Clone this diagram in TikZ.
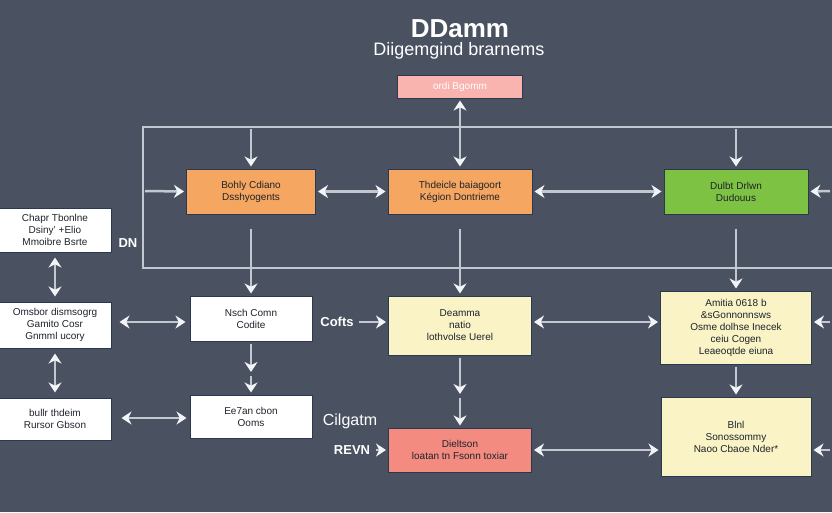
\documentclass[tikz,border=0pt]{standalone}
\usepackage{fontspec}
\setmainfont{Liberation Sans}
\usetikzlibrary{arrows.meta}
\definecolor{slate}{HTML}{4A5262}
\definecolor{railgray}{HTML}{C2C7D0}
\definecolor{tipwhite}{HTML}{F2F4F7}
\definecolor{boxline}{HTML}{2A3850}
\definecolor{orangefill}{HTML}{F5A660}
\definecolor{greenfill}{HTML}{7DC242}
\definecolor{creamfill}{HTML}{F9F3C6}
\definecolor{salmonfill}{HTML}{F48B80}
\definecolor{pinkfill}{HTML}{F9B4B0}
\definecolor{inktext}{HTML}{1E232B}
\tikzset{
    every node/.style={align=center,text=inktext,font=\fontsize{10}{12}\selectfont},
    block/.style={draw=boxline,line width=1pt,rectangle,inner sep=2pt},
    hot/.style={block,fill=orangefill},
    lime/.style={block,fill=greenfill},
    cream/.style={block,fill=creamfill},
    salmon/.style={block,fill=salmonfill},
    plain/.style={block,fill=white},
    tag/.style={text=white,font=\bfseries\fontsize{13}{15}\selectfont},
    rail/.style={draw=railgray,line width=2.5pt},
    link/.style={rail,->,shorten >=2pt,shorten <=2pt},
    twoway/.style={rail,<->,shorten >=2pt,shorten <=2pt},
}

\begin{document}
\begin{tikzpicture}[x=1pt,y=-1pt,>={Stealth[length=10pt,width=13pt,color=tipwhite]}]
                \useasboundingbox (0,0) rectangle (832,512);
                \fill[slate] (0,0) rectangle (832,512);

                \node[text=white,font=\bfseries\fontsize{26}{30}\selectfont] (title) at (460,29) {DDamm};
                \node[text=white,font=\fontsize{18}{22}\selectfont] (subtitle) at (459,51) {Diigemgind brarnems};

                \node[block,fill=pinkfill,text=white,minimum width=125pt,minimum height=23pt] (start) at (460,86.5) {ordi Bgomm};

                \node[hot,minimum width=129pt,minimum height=45pt] (setup) at (251,191.5) {Bohly Cdiano\\Dsshyogents};
                \node[hot,minimum width=144pt,minimum height=45pt] (region) at (460,191.5) {Thdeicle baiagoort\\Kégion Dontrieme};
                \node[lime,minimum width=144pt,minimum height=45pt] (draw) at (736,191.5) {Dulbt Drlwn\\Dudouus};

                \node[plain,minimum width=112pt,minimum height=44pt] (chapter) at (55,230) {Chapr Tbonlne\\Dsiny' +Elio\\Mmoibre Bsrte};
                \node[plain,minimum width=112pt,minimum height=46pt] (gamito) at (55,325) {Omsbor dismsogrg\\Gamito Cosr\\Gnmml ucory};
                \node[plain,minimum width=112pt,minimum height=42pt] (rursor) at (55,419) {bullr thdeim\\Rursor Gbson};
                \node[tag] (dn) at (128,243) {DN};

                \node[plain,minimum width=122pt,minimum height=45pt] (nsch) at (251,318.5) {Nsch Comn\\Codite};
                \node[plain,minimum width=122pt,minimum height=43pt] (ooms) at (251,416.5) {Ee7an cbon\\Ooms};

                \node[cream,minimum width=143pt,minimum height=59pt] (deamma) at (460,325.5) {Deamma\\natio\\lothvolse Uerel};
                \node[cream,minimum width=151pt,minimum height=73pt] (amitia) at (736,327.5) {Amitia 0618 b\\\&sGonnonnsws\\Osme dolhse Inecek\\ceiu Cogen\\Leaeoqtde eiuna};
                \node[salmon,minimum width=143pt,minimum height=44pt] (dieltson) at (460,450) {Dieltson\\loatan tn Fsonn toxiar};
                \node[cream,minimum width=150pt,minimum height=79pt] (blnl) at (736,436.5) {Blnl\\Sonossommy\\Naoo Cbaoe Nder*};

                \node[tag] (cofts) at (337,322) {Cofts};
                \node[text=white,font=\fontsize{16}{18}\selectfont] (cilgatm) at (350,421) {Cilgatm};
                \node[tag] (revn) at (352,450) {REVN};

                % frame round the top row
                \coordinate (railNE) at (832,127);
                \coordinate (railSE) at (832,268);
                \draw[rail] (railNE) -| (143,268) -- (railSE);

                \draw[twoway] (start) to (region);
                \draw[link] (setup.north |- railNE) to (setup);
                \draw[link] (draw.north |- railNE) to (draw);
                \draw[link] (143,191) to (setup.west);
                \draw[twoway] (setup) to (region);
                \draw[twoway] (region) to (draw);
                \draw[link] (832,191) to (draw.east);

                \draw[link,shorten <=14pt] (setup) to (nsch);
                \draw[link,shorten <=14pt] (region) to (deamma);
                \draw[link,shorten <=14pt] (draw) to (amitia);

                \draw[twoway,shorten <=5pt,shorten >=5pt] (chapter) to (gamito);
                \draw[twoway,shorten <=5pt,shorten >=5pt] (gamito) to (rursor);
                \coordinate (rowB) at (0,322);
                \draw[twoway,shorten <=8pt,shorten >=4pt] (gamito.east |- rowB) to (nsch.west |- rowB);
                \coordinate (rowC) at (0,418);
                \draw[twoway,shorten <=10pt,shorten >=3pt] (rursor.east |- rowC) to (ooms.west |- rowC);

                \coordinate (nschmid) at (251,374);
                \draw[link] (nsch) to (nschmid);
                \draw[link] (nschmid) to (ooms);

                \draw[link] (cofts.east) to (deamma.west |- cofts);
                \draw[twoway] (deamma.east |- rowB) to (amitia.west |- rowB);
                \draw[link] (832,322) to (amitia.east |- rowB);

                \coordinate (deammamid) at (460,396);
                \draw[link] (deamma) to (deammamid);
                \draw[link] (deammamid) to (dieltson);
                \draw[link] (revn.east) to (dieltson.west |- revn);

                \draw[link] (amitia) to (blnl);
                \draw[twoway] (dieltson) to (blnl.west |- dieltson);
                \draw[link] (832,450) to (blnl.east |- dieltson);
            \end{tikzpicture}
\end{document}
